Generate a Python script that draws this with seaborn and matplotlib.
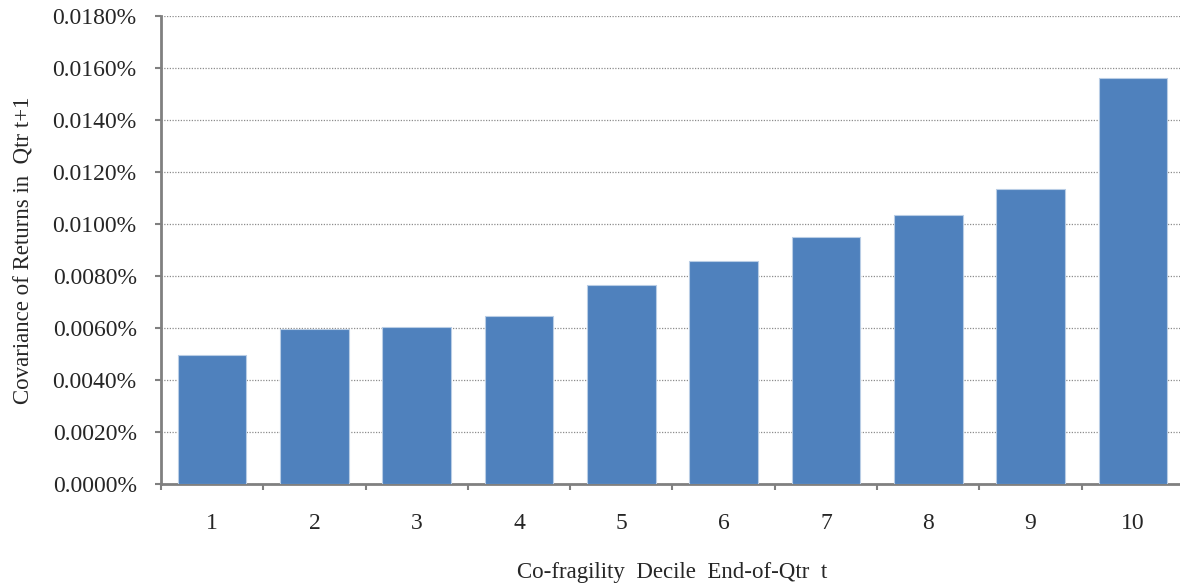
import matplotlib
matplotlib.use("Agg")
import matplotlib.pyplot as plt
from matplotlib.ticker import FuncFormatter, MultipleLocator, FixedLocator
import pandas as pd
import seaborn as sns

deciles = ["1", "2", "3", "4", "5", "6", "7", "8", "9", "10"]
covariance_pct = [0.00495, 0.00596, 0.00603, 0.00646, 0.00765,
                  0.00858, 0.00950, 0.01036, 0.01134, 0.01563]

df = pd.DataFrame({"decile": deciles, "cov": covariance_pct})

sns.set_style("white")
plt.rcParams["font.family"] = ["Liberation Serif", "DejaVu Serif"]

fig = plt.figure(figsize=(11.8, 5.85), dpi=100)
ax = fig.add_axes([0.1364, 0.1726, 0.867, 0.8])

sns.barplot(data=df, x="decile", y="cov", color="#4F81BD", saturation=1,
            width=0.67, edgecolor="#B9CDE5", linewidth=0.8, ax=ax, zorder=3)

ax.set_xlim(-0.5, 9.5)
ax.set_ylim(0, 0.018)
ax.yaxis.set_major_locator(MultipleLocator(0.002))
ax.yaxis.set_major_formatter(FuncFormatter(lambda v, p: f"{v:.4f}%"))
ax.grid(axis="y", color="#8c8c8c", linestyle=(0, (1, 1.2)), linewidth=0.9, zorder=0)

# category boundary ticks on x
ax.xaxis.set_minor_locator(FixedLocator([i - 0.5 for i in range(11)]))
ax.tick_params(axis="x", which="major", length=0, pad=21, labelsize=17)
ax.tick_params(axis="x", which="minor", length=4.5, width=1.5, color="#808080", direction="out")
ax.tick_params(axis="y", length=4.5, width=1.5, color="#808080", direction="out", pad=13, labelsize=17)
ax.tick_params(bottom=True, left=True, which="both")

for side in ["top", "right"]:
    ax.spines[side].set_visible(False)
for side in ["left", "bottom"]:
    ax.spines[side].set_color("#808080")
    ax.spines[side].set_linewidth(2)

ax.set_xlabel("Co-fragility  Decile  End-of-Qtr  t", fontsize=16.5, labelpad=20)
ax.set_ylabel("Covariance of Returns in  Qtr t+1", fontsize=16.5, labelpad=13)

fig.savefig("out.png", dpi=100)
